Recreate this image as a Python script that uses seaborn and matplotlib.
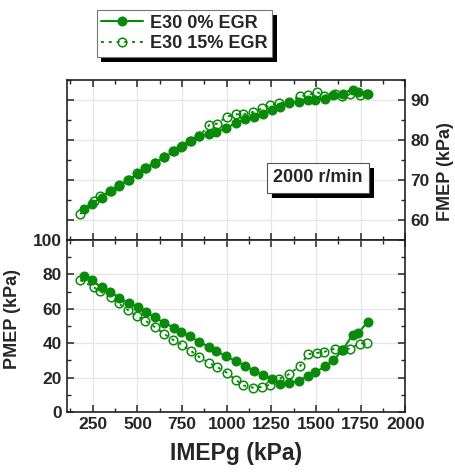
import numpy as np
import pandas as pd
import matplotlib
matplotlib.use("Agg")
import matplotlib.pyplot as plt
import matplotlib.patheffects as pe
from matplotlib.ticker import MultipleLocator
import seaborn as sns

# ---- data ----
imep_0 = [202, 243, 300, 346, 396, 452, 502, 550, 598, 648, 705, 744, 794, 842, 898, 942, 994,
          1052, 1102, 1152, 1202, 1255, 1298, 1346, 1403, 1453, 1496, 1548, 1596, 1648, 1705, 1737, 1789]
fmep_0 = [62.9, 64.1, 65.6, 67.3, 68.5, 70.1, 71.6, 73.0, 74.3, 75.7, 77.2, 78.4, 79.9, 81.0, 81.7, 82.2, 83.0,
          84.4, 85.3, 85.9, 86.7, 87.6, 88.3, 89.3, 89.7, 90.0, 90.1, 90.4, 91.3, 91.7, 92.7, 92.2, 91.7]
pmep_0 = [79, 76.5, 72.5, 70, 66.5, 63.5, 61, 58, 55, 52, 49, 46.5, 44, 41, 38, 35.5, 32.5,
          29.5, 27, 24, 21.5, 19, 16.5, 17, 18, 21, 23, 26.5, 30, 36, 45, 46, 52.5]

imep_15 = [180, 258, 291, 352, 396, 448, 498, 544, 596, 648, 698, 748, 800, 846, 902, 946, 1000,
           1052, 1093, 1146, 1198, 1244, 1294, 1346, 1411, 1454, 1506, 1546, 1606, 1643, 1689, 1744, 1787]
fmep_15 = [61.5, 64.7, 66.0, 67.3, 68.7, 70.1, 71.8, 73.1, 74.4, 75.7, 77.2, 78.6, 79.9, 81.1, 83.8, 84.2, 85.9,
           86.5, 86.5, 87.1, 88.0, 88.8, 89.3, 89.6, 91.1, 91.3, 92.1, 91.2, 91.5, 91.1, 91.5, 91.3, 91.6]
pmep_15 = [76.7, 72.4, 70.3, 66.6, 63.1, 59.2, 55.7, 53.2, 49.5, 45.6, 42.1, 39.2, 35.5, 32, 28.5, 26.2, 22.9,
           18.6, 15.5, 14.2, 14.6, 15.9, 19.4, 21.9, 26.8, 33.6, 34.4, 35, 36.9, 36.3, 36.9, 39.8, 40.4]

labels = ["E30 0% EGR", "E30 15% EGR"]
x_ticks = [250, 500, 750, 1000, 1250, 1500, 1750, 2000]

df0 = pd.DataFrame({"IMEPg": imep_0, "FMEP": fmep_0, "PMEP": pmep_0})
df15 = pd.DataFrame({"IMEPg": imep_15, "FMEP": fmep_15, "PMEP": pmep_15})

# ---- style ----
sns.set_style("ticks")
plt.rcParams["font.family"] = ["Liberation Sans", "DejaVu Sans"]
plt.rcParams["font.weight"] = "bold"
plt.rcParams["axes.labelweight"] = "bold"
plt.rcParams["axes.linewidth"] = 1.2
plt.rcParams["axes.edgecolor"] = "#222222"

GREEN = "#0a8a0a"

fig = plt.figure(figsize=(4.55, 4.72), dpi=100)
ax_top = fig.add_axes([0.147, 0.4915, 0.744, 0.338])
ax_bot = fig.add_axes([0.147, 0.127, 0.744, 0.3645])

filled_kw = dict(color=GREEN, linestyle="-", linewidth=1.5, marker="o", markersize=6.2,
                 markerfacecolor=GREEN, markeredgecolor=GREEN, markeredgewidth=1.0)
open_kw = dict(color=GREEN, linestyle=(0, (1.5, 2.5)), linewidth=1.4, marker="o", markersize=6.2,
               markerfacecolor="none", markeredgecolor=GREEN, markeredgewidth=1.1)

for ax, col in [(ax_top, "FMEP"), (ax_bot, "PMEP")]:
    sns.lineplot(data=df0, x="IMEPg", y=col, ax=ax, sort=False, label=labels[0], legend=False, **filled_kw)
    sns.lineplot(data=df15, x="IMEPg", y=col, ax=ax, sort=False, label=labels[1], legend=False, **open_kw)
    ax.set_xlim(105, 2000)
    ax.xaxis.set_major_locator(MultipleLocator(250))
    ax.xaxis.set_minor_locator(MultipleLocator(125))
    ax.grid(True, which="major", color="#e6e6e6", linewidth=0.9)
    ax.set_axisbelow(True)
    ax.set_xticks(x_ticks)

# top panel
ax_top.set_ylim(55, 95)
ax_top.yaxis.set_major_locator(MultipleLocator(10))
ax_top.yaxis.set_minor_locator(MultipleLocator(5))
ax_top.set_xlabel("")
ax_top.tick_params(axis="x", which="both", direction="in", top=True, bottom=True, labelbottom=False)
ax_top.tick_params(axis="y", which="both", left=True, right=True, labelleft=False, labelright=True,
                   direction="in", labelsize=12.5)
ax_top.tick_params(which="major", length=5, width=1.1)
ax_top.tick_params(which="minor", length=3, width=1.0)
ax_top.yaxis.set_label_position("right")
ax_top.set_ylabel("FMEP (kPa)", fontsize=13, fontweight="bold", rotation=90)
ax_top.yaxis.set_label_coords(1.093, 0.43)

t = ax_top.text(0.742, 0.389, "2000 r/min", transform=ax_top.transAxes, ha="center", va="center",
                fontsize=13, fontweight="bold",
                bbox=dict(boxstyle="square,pad=0.35", facecolor="white", edgecolor="#555555", linewidth=0.8))
t.get_bbox_patch().set_path_effects([pe.SimplePatchShadow(offset=(3.5, -3.5), shadow_rgbFace="black", alpha=1),
                                     pe.Normal()])

# bottom panel
ax_bot.set_ylim(0, 100)
ax_bot.yaxis.set_major_locator(MultipleLocator(20))
ax_bot.yaxis.set_minor_locator(MultipleLocator(10))
ax_bot.tick_params(axis="both", which="both", direction="in", top=True, right=True, labelsize=12.5)
ax_bot.tick_params(which="major", length=5, width=1.1)
ax_bot.tick_params(which="minor", length=3, width=1.0)
ax_bot.set_xticklabels([str(v) for v in x_ticks], fontweight="bold")
ax_bot.set_xlabel("IMEPg (kPa)", fontsize=16.5, fontweight="bold", labelpad=7)
ax_bot.set_ylabel("PMEP (kPa)", fontsize=13, fontweight="bold")
ax_bot.yaxis.set_label_coords(-0.135, 0.54)
for lab in ax_bot.get_yticklabels() + ax_top.get_yticklabels():
    lab.set_fontweight("bold")

# legend
handles, lbls = ax_top.get_legend_handles_labels()
leg = fig.legend(handles, lbls, loc="center", bbox_to_anchor=(0.405, 0.929), frameon=True,
                 fancybox=False, framealpha=1, fontsize=13, handlelength=2.3, handletextpad=0.4,
                 borderpad=0.25, labelspacing=0.2, borderaxespad=0)
leg.get_frame().set_facecolor("white")
leg.get_frame().set_edgecolor("#777777")
leg.get_frame().set_linewidth(0.8)
leg.get_frame().set_path_effects([pe.SimplePatchShadow(offset=(3.5, -3.5), shadow_rgbFace="black", alpha=1),
                                  pe.Normal()])
for txt in leg.get_texts():
    txt.set_fontweight("bold")

fig.savefig("out.png", dpi=100)
